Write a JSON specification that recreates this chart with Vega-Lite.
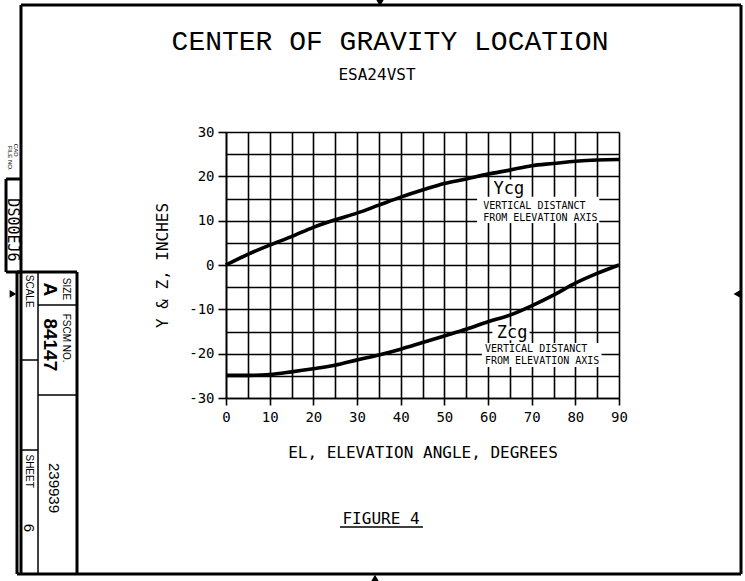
{
  "$schema": "https://vega.github.io/schema/vega-lite/v6.json",
  "width": 393,
  "height": 266,
  "autosize": {"type": "none"},
  "padding": {"left": 226, "top": 132, "right": 126, "bottom": 183},
  "background": "white",
  "config": {"view": {"stroke": null}, "font": "DejaVu Sans Mono"},
  "resolve": {"axis": {"x": "independent", "y": "independent"}},
  "datasets": {
    "curves": [
      {"series": "Ycg", "x": 0, "y": 0},
      {"series": "Ycg", "x": 5, "y": 2.4},
      {"series": "Ycg", "x": 10, "y": 4.5},
      {"series": "Ycg", "x": 15, "y": 6.4},
      {"series": "Ycg", "x": 20, "y": 8.5},
      {"series": "Ycg", "x": 25, "y": 10.2},
      {"series": "Ycg", "x": 30, "y": 11.7},
      {"series": "Ycg", "x": 35, "y": 13.5},
      {"series": "Ycg", "x": 40, "y": 15.3},
      {"series": "Ycg", "x": 45, "y": 16.9},
      {"series": "Ycg", "x": 50, "y": 18.4},
      {"series": "Ycg", "x": 55, "y": 19.4},
      {"series": "Ycg", "x": 60, "y": 20.5},
      {"series": "Ycg", "x": 65, "y": 21.4},
      {"series": "Ycg", "x": 70, "y": 22.4},
      {"series": "Ycg", "x": 75, "y": 22.9},
      {"series": "Ycg", "x": 80, "y": 23.4},
      {"series": "Ycg", "x": 85, "y": 23.7},
      {"series": "Ycg", "x": 90, "y": 23.8},
      {"series": "Zcg", "x": 0, "y": -24.9},
      {"series": "Zcg", "x": 5, "y": -24.9},
      {"series": "Zcg", "x": 10, "y": -24.7},
      {"series": "Zcg", "x": 15, "y": -24.1},
      {"series": "Zcg", "x": 20, "y": -23.4},
      {"series": "Zcg", "x": 25, "y": -22.6},
      {"series": "Zcg", "x": 30, "y": -21.4},
      {"series": "Zcg", "x": 35, "y": -20.3},
      {"series": "Zcg", "x": 40, "y": -19.0},
      {"series": "Zcg", "x": 45, "y": -17.5},
      {"series": "Zcg", "x": 50, "y": -16.0},
      {"series": "Zcg", "x": 55, "y": -14.5},
      {"series": "Zcg", "x": 60, "y": -12.8},
      {"series": "Zcg", "x": 65, "y": -11.3},
      {"series": "Zcg", "x": 70, "y": -9.2},
      {"series": "Zcg", "x": 75, "y": -6.8},
      {"series": "Zcg", "x": 80, "y": -4.1},
      {"series": "Zcg", "x": 85, "y": -1.9},
      {"series": "Zcg", "x": 90, "y": 0}
    ],
    "boxes": [
      {"x": 57.5, "x2": 85.5, "y": 15.4, "y2": 9.5},
      {"x": 60.5, "x2": 69.5, "y": 19.3, "y2": 15.2},
      {"x": 61, "x2": 69.5, "y": -13.9, "y2": -17.0},
      {"x": 58.6, "x2": 86, "y": -17.6, "y2": -23.0}
    ],
    "bigLabels": [
      {"text": "Ycg", "x": 64.8, "y": 17.1},
      {"text": "Zcg", "x": 65.5, "y": -15.4}
    ],
    "smallLabels": [
      {"text": "VERTICAL DISTANCT", "x": 58.9, "y": 13.3},
      {"text": "FROM ELEVATION AXIS", "x": 58.9, "y": 10.7},
      {"text": "VERTICAL DISTANCT", "x": 59.3, "y": -19.0},
      {"text": "FROM ELEVATION AXIS", "x": 59.3, "y": -21.7}
    ],
    "titles": [
      {"text": "CENTER OF GRAVITY LOCATION", "x": 37.56, "y": 50.3}
    ],
    "subtitles": [
      {"text": "ESA24VST", "x": 34.58, "y": 42.86},
      {"text": "FIGURE 4", "x": 35.5, "y": -57.3}
    ],
    "thickLines": [
      {"x": -46.95, "x2": 117.94, "y": 58.65, "y2": 58.65},
      {"x": 117.94, "x2": 117.94, "y": 58.65, "y2": -69.7},
      {"x": -47.86, "x2": 117.94, "y": -69.7, "y2": -69.7},
      {"x": -46.95, "x2": -46.95, "y": 58.65, "y2": -69.7},
      {"x": -50.38, "x2": -50.38, "y": 19.4, "y2": -1.58},
      {"x": -50.38, "x2": -46.95, "y": 19.4, "y2": 19.4},
      {"x": -50.38, "x2": -46.95, "y": -1.58, "y2": -1.58},
      {"x": -47.86, "x2": -47.86, "y": -1.58, "y2": -69.7},
      {"x": -47.86, "x2": -34.12, "y": -1.58, "y2": -1.58},
      {"x": -34.12, "x2": -34.12, "y": -1.58, "y2": -69.7}
    ],
    "thinLines": [
      {"x": -43.05, "x2": -43.05, "y": -1.58, "y2": -69.7},
      {"x": -43.05, "x2": -34.12, "y": -9.02, "y2": -9.02},
      {"x": -43.05, "x2": -34.12, "y": -29.32, "y2": -29.32},
      {"x": -46.95, "x2": -43.05, "y": -21.43, "y2": -21.43},
      {"x": -46.95, "x2": -43.05, "y": -41.73, "y2": -41.73},
      {"x": 26.1, "x2": 45.1, "y": -59.1, "y2": -59.1}
    ],
    "arrows": [
      {"dir": "down", "x": 35.27, "y": 59.1},
      {"dir": "up", "x": 34.12, "y": -70.6},
      {"dir": "left", "x": 117.0, "y": -6.54},
      {"dir": "right", "x": -48.78, "y": -6.54}
    ],
    "tbSmall": [
      {"text": "SIZE", "x": -36.6, "y": -5.4},
      {"text": "FSCM NO.", "x": -36.6, "y": -16.5},
      {"text": "SCALE", "x": -45.1, "y": -5.9},
      {"text": "SHEET", "x": -45.2, "y": -46.5}
    ],
    "tbBold": [
      {"text": "A", "x": -40.3, "y": -5.5},
      {"text": "84147", "x": -40.3, "y": -18.0}
    ],
    "tbNum": [
      {"text": "239939", "x": -39.5, "y": -50.3},
      {"text": "6", "x": -45.1, "y": -59.3}
    ],
    "tbFile": [
      {"text": "DS00EJ6", "x": -48.7, "y": 7.9}
    ],
    "tbTiny": [
      {"text": "FILE NO.", "x": -49.5, "y": 24.1},
      {"text": "CAD", "x": -48.1, "y": 25.9}
    ]
  },
  "layer": [
    {
      "data": {"name": "curves"},
      "mark": {"type": "line", "color": "black", "strokeWidth": 3.6, "interpolate": "monotone"},
      "encoding": {
        "x": {
          "field": "x", "type": "quantitative",
          "scale": {"domain": [0, 90], "nice": false, "zero": false},
          "axis": {
            "values": [0, 5, 10, 15, 20, 25, 30, 35, 40, 45, 50, 55, 60, 65, 70, 75, 80, 85, 90],
            "grid": true, "gridColor": "black", "gridWidth": 1.6, "gridOpacity": 1,
            "domain": true, "domainColor": "black", "domainWidth": 1.6,
            "ticks": true, "tickColor": "black", "tickWidth": 1.6, "tickSize": 7,
            "tickOpacity": {"condition": {"test": "datum.value % 10 !== 0", "value": 0}, "value": 1},
            "labelExpr": "datum.value % 10 === 0 ? '' + datum.value : ''",
            "labelFont": "DejaVu Sans Mono", "labelFontSize": 14, "labelColor": "black",
            "labelPadding": 5, "labelFlush": false, "labelOverlap": false,
            "title": "EL, ELEVATION ANGLE, DEGREES",
            "titleFont": "DejaVu Sans Mono", "titleFontSize": 16, "titleFontWeight": "normal",
            "titleColor": "black", "titlePadding": 20
          }
        },
        "y": {
          "field": "y", "type": "quantitative",
          "scale": {"domain": [-30, 30], "nice": false, "zero": false},
          "axis": {
            "values": [-30, -25, -20, -15, -10, -5, 0, 5, 10, 15, 20, 25, 30],
            "grid": true, "gridColor": "black", "gridWidth": 1.6, "gridOpacity": 1,
            "domain": true, "domainColor": "black", "domainWidth": 1.6,
            "ticks": true, "tickColor": "black", "tickWidth": 1.6, "tickSize": 8,
            "tickOpacity": {"condition": {"test": "datum.value % 10 !== 0", "value": 0}, "value": 1},
            "labelExpr": "datum.value % 10 === 0 ? '' + datum.value : ''",
            "labelFont": "DejaVu Sans Mono", "labelFontSize": 14, "labelColor": "black",
            "labelPadding": 4, "labelFlush": false, "labelOverlap": false,
            "title": "Y & Z, INCHES",
            "titleFont": "DejaVu Sans Mono", "titleFontSize": 16, "titleFontWeight": "normal",
            "titleColor": "black", "titlePadding": 18
          }
        },
        "detail": {"field": "series", "type": "nominal"}
      }
    },
    {
      "data": {"name": "boxes"},
      "mark": {"type": "rect", "fill": "white", "stroke": null},
      "encoding": {
        "x": {"field": "x", "type": "quantitative", "axis": null},
        "x2": {"field": "x2"},
        "y": {"field": "y", "type": "quantitative", "axis": null},
        "y2": {"field": "y2"}
      }
    },
    {
      "data": {"name": "bigLabels"},
      "mark": {"type": "text", "font": "DejaVu Sans Mono", "fontSize": 17, "color": "black", "align": "center", "baseline": "middle"},
      "encoding": {
        "x": {"field": "x", "type": "quantitative", "axis": null},
        "y": {"field": "y", "type": "quantitative", "axis": null},
        "text": {"field": "text"}
      }
    },
    {
      "data": {"name": "smallLabels"},
      "mark": {"type": "text", "font": "DejaVu Sans Mono", "fontSize": 10, "color": "black", "align": "left", "baseline": "middle"},
      "encoding": {
        "x": {"field": "x", "type": "quantitative", "axis": null},
        "y": {"field": "y", "type": "quantitative", "axis": null},
        "text": {"field": "text"}
      }
    },
    {
      "data": {"name": "titles"},
      "mark": {"type": "text", "font": "Liberation Mono", "fontSize": 28, "color": "black", "align": "center", "baseline": "middle"},
      "encoding": {
        "x": {"field": "x", "type": "quantitative", "axis": null},
        "y": {"field": "y", "type": "quantitative", "axis": null},
        "text": {"field": "text"}
      }
    },
    {
      "data": {"name": "subtitles"},
      "mark": {"type": "text", "font": "DejaVu Sans Mono", "fontSize": 16, "color": "black", "align": "center", "baseline": "middle"},
      "encoding": {
        "x": {"field": "x", "type": "quantitative", "axis": null},
        "y": {"field": "y", "type": "quantitative", "axis": null},
        "text": {"field": "text"}
      }
    },
    {
      "data": {"name": "thickLines"},
      "mark": {"type": "rule", "color": "black", "strokeWidth": 3},
      "encoding": {
        "x": {"field": "x", "type": "quantitative", "axis": null},
        "x2": {"field": "x2"},
        "y": {"field": "y", "type": "quantitative", "axis": null},
        "y2": {"field": "y2"}
      }
    },
    {
      "data": {"name": "thinLines"},
      "mark": {"type": "rule", "color": "black", "strokeWidth": 1.5},
      "encoding": {
        "x": {"field": "x", "type": "quantitative", "axis": null},
        "x2": {"field": "x2"},
        "y": {"field": "y", "type": "quantitative", "axis": null},
        "y2": {"field": "y2"}
      }
    },
    {
      "data": {"name": "arrows"},
      "mark": {"type": "point", "filled": true, "color": "black", "size": 60, "opacity": 1},
      "encoding": {
        "x": {"field": "x", "type": "quantitative", "axis": null},
        "y": {"field": "y", "type": "quantitative", "axis": null},
        "shape": {
          "field": "dir", "type": "nominal", "legend": null,
          "scale": {"domain": ["down", "up", "left", "right"], "range": ["triangle-down", "triangle-up", "triangle-left", "triangle-right"]}
        }
      }
    },
    {
      "data": {"name": "tbSmall"},
      "mark": {"type": "text", "font": "Liberation Sans", "fontSize": 10, "color": "black", "angle": 90, "align": "center", "baseline": "middle"},
      "encoding": {
        "x": {"field": "x", "type": "quantitative", "axis": null},
        "y": {"field": "y", "type": "quantitative", "axis": null},
        "text": {"field": "text"}
      }
    },
    {
      "data": {"name": "tbBold"},
      "mark": {"type": "text", "font": "Liberation Sans", "fontSize": 19, "fontWeight": "bold", "color": "black", "angle": 90, "align": "center", "baseline": "middle"},
      "encoding": {
        "x": {"field": "x", "type": "quantitative", "axis": null},
        "y": {"field": "y", "type": "quantitative", "axis": null},
        "text": {"field": "text"}
      }
    },
    {
      "data": {"name": "tbNum"},
      "mark": {"type": "text", "font": "Liberation Sans", "fontSize": 15, "color": "black", "angle": 90, "align": "center", "baseline": "middle"},
      "encoding": {
        "x": {"field": "x", "type": "quantitative", "axis": null},
        "y": {"field": "y", "type": "quantitative", "axis": null},
        "text": {"field": "text"}
      }
    },
    {
      "data": {"name": "tbFile"},
      "mark": {"type": "text", "font": "DejaVu Sans Mono", "fontSize": 15, "color": "black", "angle": 90, "align": "center", "baseline": "middle"},
      "encoding": {
        "x": {"field": "x", "type": "quantitative", "axis": null},
        "y": {"field": "y", "type": "quantitative", "axis": null},
        "text": {"field": "text"}
      }
    },
    {
      "data": {"name": "tbTiny"},
      "mark": {"type": "text", "font": "Liberation Sans", "fontSize": 6, "color": "black", "angle": 90, "align": "center", "baseline": "middle"},
      "encoding": {
        "x": {"field": "x", "type": "quantitative", "axis": null},
        "y": {"field": "y", "type": "quantitative", "axis": null},
        "text": {"field": "text"}
      }
    }
  ]
}
